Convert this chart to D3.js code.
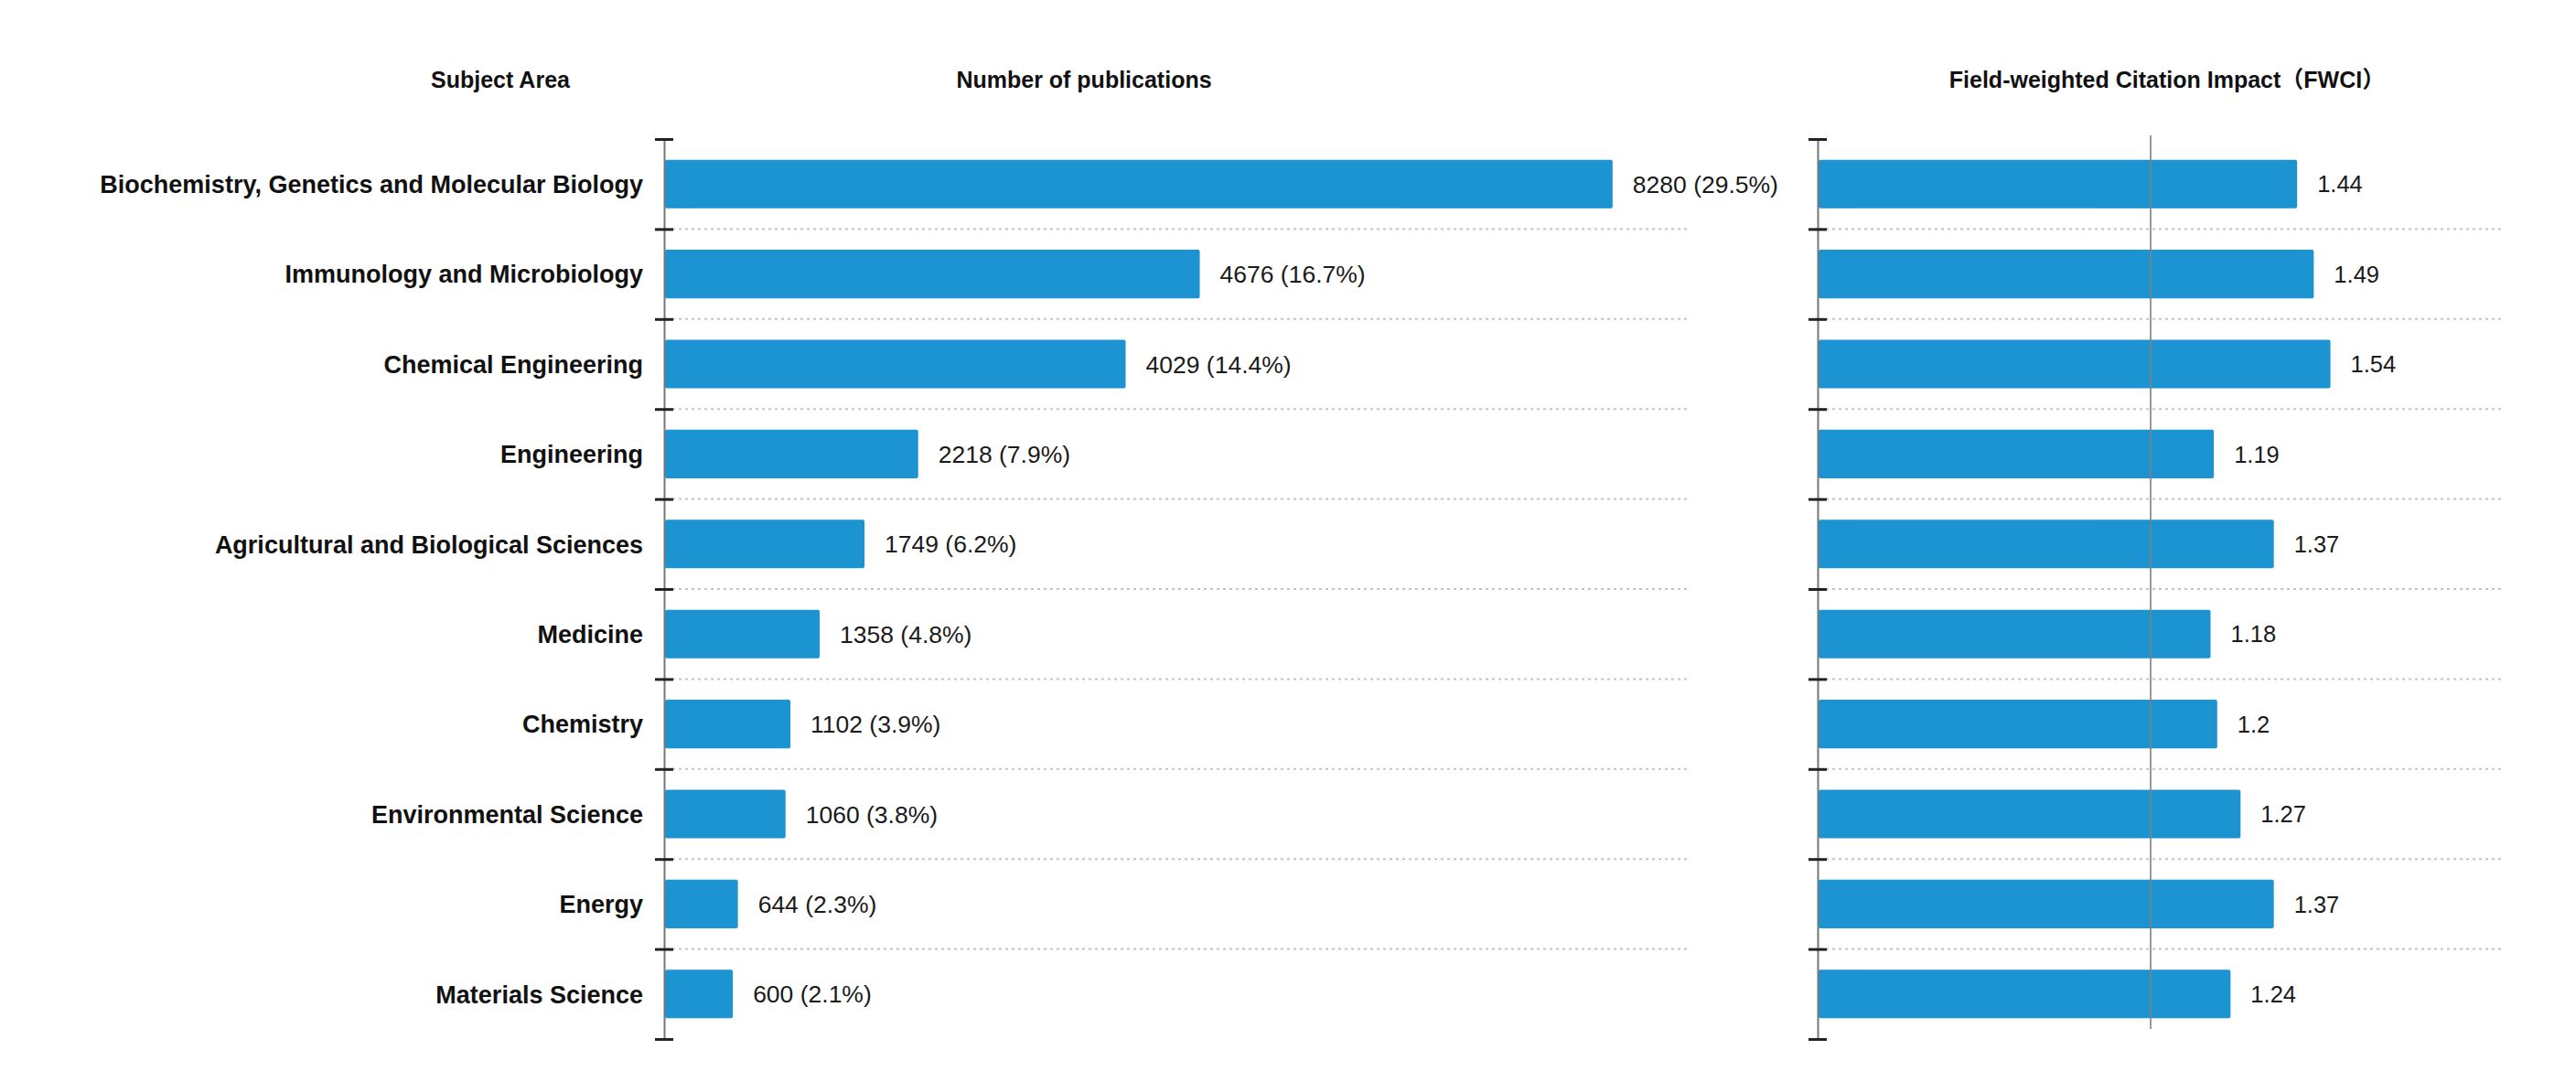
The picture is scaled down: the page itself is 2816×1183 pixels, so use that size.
<!DOCTYPE html>
<html>
<head>
<meta charset="utf-8">
<script src="https://cdn.jsdelivr.net/npm/d3@7/dist/d3.min.js"></script>
<style>
  html, body { margin: 0; padding: 0; background: #ffffff; }
  svg { display: block; }
  text { font-family: "Liberation Sans", Arial, "Noto Sans CJK SC", sans-serif; }
</style>
</head>
<body>
<svg id="chart" width="2816" height="1183"></svg>
<script>
const categories = [
  "Biochemistry, Genetics and Molecular Biology",
  "Immunology and Microbiology",
  "Chemical Engineering",
  "Engineering",
  "Agricultural and Biological Sciences",
  "Medicine",
  "Chemistry",
  "Environmental Science",
  "Energy",
  "Materials Science"
];
const publications = [8280, 4676, 4029, 2218, 1749, 1358, 1102, 1060, 644, 600];
const shares = ["29.5%", "16.7%", "14.4%", "7.9%", "6.2%", "4.8%", "3.9%", "3.8%", "2.3%", "2.1%"];
const fwci = [1.44, 1.49, 1.54, 1.19, 1.37, 1.18, 1.2, 1.27, 1.37, 1.24];
const fwciReference = 1.0;
const headers = ["Subject Area", "Number of publications", "Field-weighted Citation Impact（FWCI）"];

const svg = d3.select("#chart");
const barColor = "#1b94d1";

const plotTop = 152, plotBottom = 1136;
const y = d3.scaleBand().domain(categories).range([plotTop, plotBottom]).paddingInner(0.46).paddingOuter(0.23);
const yEdge = d3.scaleLinear().domain([0, categories.length]).range([plotTop, plotBottom]);

const leftAxisX = 726, leftGridEnd = 1848;
const xPub = d3.scaleLinear().domain([0, 9000]).range([leftAxisX, leftAxisX + 1127]);

const rightAxisX = 1987, rightGridEnd = 2737;
const xF = d3.scaleLinear().domain([0, 2]).range([rightAxisX, rightAxisX + 728]);

// headers
svg.append("text").attr("x", 547).attr("y", 96).attr("text-anchor", "middle")
  .attr("font-size", 25).attr("font-weight", "bold").attr("fill", "#111").text(headers[0]);
svg.append("text").attr("x", 1185).attr("y", 96).attr("text-anchor", "middle")
  .attr("font-size", 25).attr("font-weight", "bold").attr("fill", "#111").text(headers[1]);
svg.append("text").attr("x", 2369).attr("y", 96).attr("text-anchor", "middle")
  .attr("font-size", 25).attr("font-weight", "bold").attr("fill", "#111").text(headers[2]);

function panel(axisX, gridEnd, xScale, values, labelFn, labelSize) {
  const g = svg.append("g");
  // dotted grid at inner band boundaries
  g.selectAll("line.grid").data(d3.range(1, categories.length)).join("line")
    .attr("class", "grid")
    .attr("x1", axisX + 2).attr("x2", gridEnd)
    .attr("y1", d => yEdge(d)).attr("y2", d => yEdge(d))
    .attr("stroke", "#c4c4c4").attr("stroke-width", 2).attr("stroke-dasharray", "3,4");
  // bars
  g.selectAll("rect.bar").data(values).join("rect")
    .attr("class", "bar")
    .attr("x", xScale(0) + 1)
    .attr("y", (d, i) => y(categories[i]))
    .attr("width", d => xScale(d) - xScale(0) - 1)
    .attr("height", y.bandwidth())
    .attr("rx", 2)
    .attr("fill", barColor);
  // value labels
  g.selectAll("text.val").data(values).join("text")
    .attr("class", "val")
    .attr("x", d => xScale(d) + 22)
    .attr("y", (d, i) => y(categories[i]) + y.bandwidth() / 2)
    .attr("dy", "0.36em")
    .attr("font-size", labelSize).attr("fill", "#1a1a1a")
    .text((d, i) => labelFn(d, i));
  // axis
  const ax = g.append("g").attr("transform", `translate(${axisX},0)`)
    .call(d3.axisLeft(yEdge).tickValues(d3.range(0, categories.length + 1)).tickSize(10).tickFormat(""));
  ax.select(".domain").attr("stroke", "#777").attr("stroke-width", 2);
  ax.selectAll(".tick line").attr("x1", -10).attr("x2", 10).attr("stroke", "#222").attr("stroke-width", 3);
  return g;
}

panel(leftAxisX, leftGridEnd, xPub, publications, (d, i) => `${d} (${shares[i]})`, 26.5);
const rg = panel(rightAxisX, rightGridEnd, xF, fwci, d => `${d}`, 25.5);

// reference line at FWCI = 1
rg.append("line")
  .attr("x1", xF(fwciReference)).attr("x2", xF(fwciReference))
  .attr("y1", 148).attr("y2", 1125)
  .attr("stroke", "#808080").attr("stroke-width", 1.6);

// category labels
svg.append("g").selectAll("text").data(categories).join("text")
  .attr("x", 703)
  .attr("y", d => y(d) + y.bandwidth() / 2)
  .attr("dy", "0.36em")
  .attr("text-anchor", "end")
  .attr("font-size", 27).attr("font-weight", "bold").attr("fill", "#111")
  .text(d => d);
</script>
</body>
</html>
